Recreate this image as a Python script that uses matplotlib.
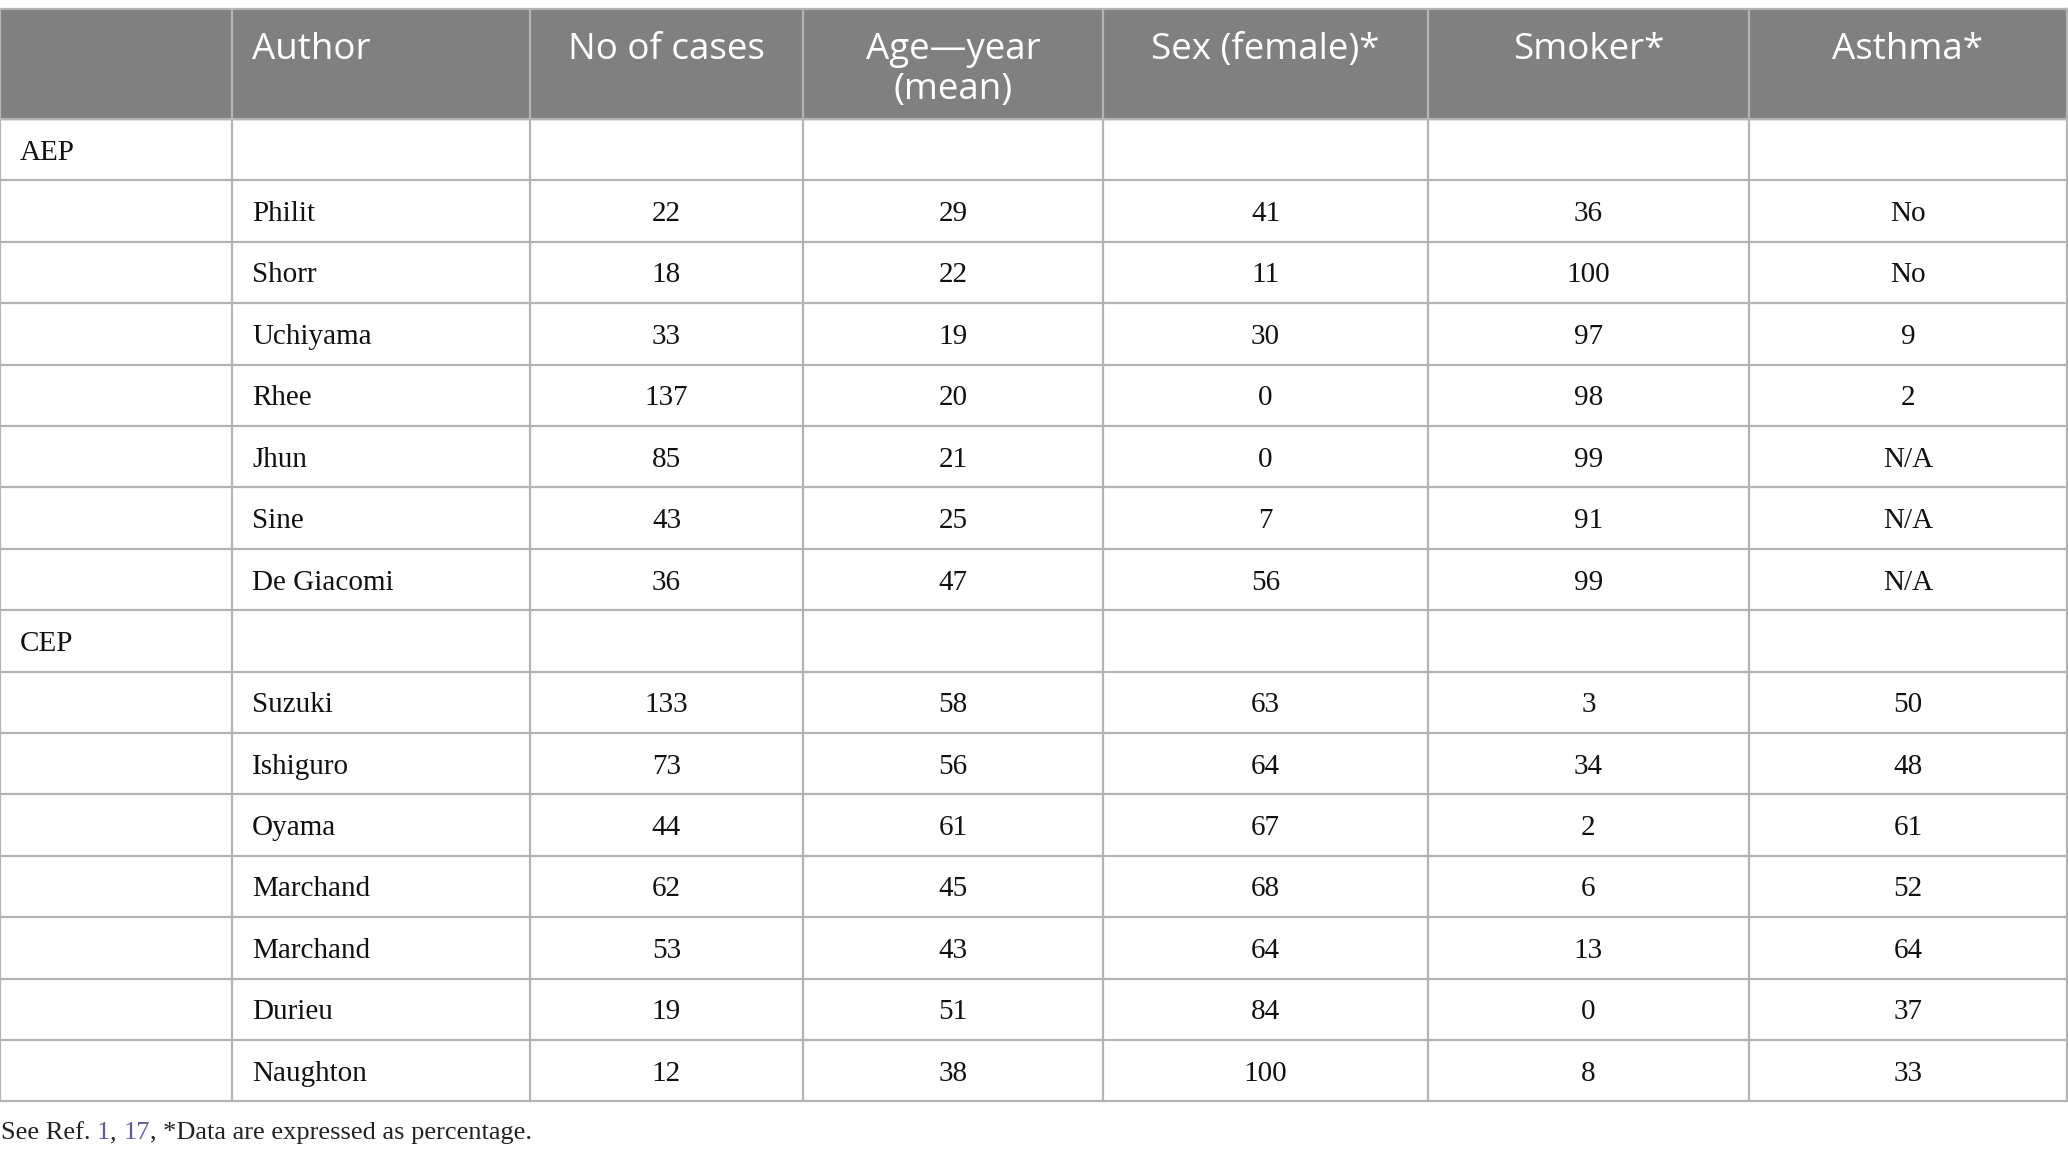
import matplotlib
matplotlib.use("Agg")
import matplotlib.pyplot as plt
from matplotlib.patches import Rectangle

# table content
columns = ["", "Author", "No of cases", "Age\u2014year\n(mean)", "Sex (female)*", "Smoker*", "Asthma*"]
groups = ["AEP", "CEP"]
aep_authors = ["Philit", "Shorr", "Uchiyama", "Rhee", "Jhun", "Sine", "De Giacomi"]
aep_cases = ["22", "18", "33", "137", "85", "43", "36"]
aep_age = ["29", "22", "19", "20", "21", "25", "47"]
aep_female = ["41", "11", "30", "0", "0", "7", "56"]
aep_smoker = ["36", "100", "97", "98", "99", "91", "99"]
aep_asthma = ["No", "No", "9", "2", "N/A", "N/A", "N/A"]
cep_authors = ["Suzuki", "Ishiguro", "Oyama", "Marchand", "Marchand", "Durieu", "Naughton"]
cep_cases = ["133", "73", "44", "62", "53", "19", "12"]
cep_age = ["58", "56", "61", "45", "43", "51", "38"]
cep_female = ["63", "64", "67", "68", "64", "84", "100"]
cep_smoker = ["3", "34", "2", "6", "13", "0", "8"]
cep_asthma = ["50", "48", "61", "52", "64", "37", "33"]
footnote_parts = [("See Ref. ", "#222222"), ("1", "#5b5ba6"), (", ", "#222222"),
                  ("17", "#5b5ba6"), (", *Data are expressed as percentage.", "#222222")]

W, H = 2068, 1159
col_edges = [0, 232, 530, 803, 1103, 1428, 1749, 2067]
top, head_bottom, row_h = 9, 119, 61.4
header_color = "#808080"
line_color = "#b4b4b4"
head_font = ["Open Sans", "DejaVu Sans"]
body_font = ["Liberation Serif", "DejaVu Serif"]

rows = [[groups[0], "", "", "", "", "", ""]]
for r in zip(aep_authors, aep_cases, aep_age, aep_female, aep_smoker, aep_asthma):
    rows.append([""] + list(r))
rows.append([groups[1], "", "", "", "", "", ""])
for r in zip(cep_authors, cep_cases, cep_age, cep_female, cep_smoker, cep_asthma):
    rows.append([""] + list(r))

fig = plt.figure(figsize=(W / 100, H / 100), dpi=100)
ax = fig.add_axes([0, 0, 1, 1])
ax.set_xlim(0, W)
ax.set_ylim(H, 0)
ax.axis("off")

# header band
ax.add_patch(Rectangle((0, top), col_edges[-1], head_bottom - top, color=header_color, zorder=0))
for j, label in enumerate(columns):
    lines = label.split("\n")
    for k, line in enumerate(lines):
        y = 59 + k * 40
        if j <= 1:
            ax.text(col_edges[j] + 20, y, line, ha="left", va="baseline", color="white",
                    fontsize=26.5, family=head_font)
        else:
            ax.text((col_edges[j] + col_edges[j + 1]) / 2, y, line, ha="center", va="baseline",
                    color="white", fontsize=26.5, family=head_font)

# body
bottom = head_bottom + row_h * len(rows)
for i, row in enumerate(rows):
    yc = head_bottom + row_h * (i + 0.5)
    for j, val in enumerate(row):
        if not val:
            continue
        if j <= 1:
            ax.text(col_edges[j] + 20, yc, val, ha="left", va="center_baseline", color="#111111",
                    fontsize=21, family=body_font)
        else:
            ax.text((col_edges[j] + col_edges[j + 1]) / 2, yc, val, ha="center",
                    va="center_baseline", color="#111111", fontsize=21, family=body_font)

# grid lines
for i in range(len(rows) + 1):
    y = head_bottom + row_h * i
    ax.plot([0, col_edges[-1]], [y, y], color=line_color, lw=1.6, zorder=2)
ax.plot([0, col_edges[-1]], [top, top], color=line_color, lw=1.6, zorder=2)
for x in col_edges:
    ax.plot([x, x], [top, bottom], color=line_color, lw=1.6, zorder=2)

# footnote with coloured reference numbers
prev = ax.text(1, 1139, footnote_parts[0][0], ha="left", va="baseline", color=footnote_parts[0][1],
               fontsize=19, family=body_font)
for txt, col in footnote_parts[1:]:
    prev = ax.annotate(txt, xy=(1, 0), xycoords=prev, ha="left", va="bottom", color=col,
                       fontsize=19, family=body_font)

fig.savefig("out.png", dpi=100)
